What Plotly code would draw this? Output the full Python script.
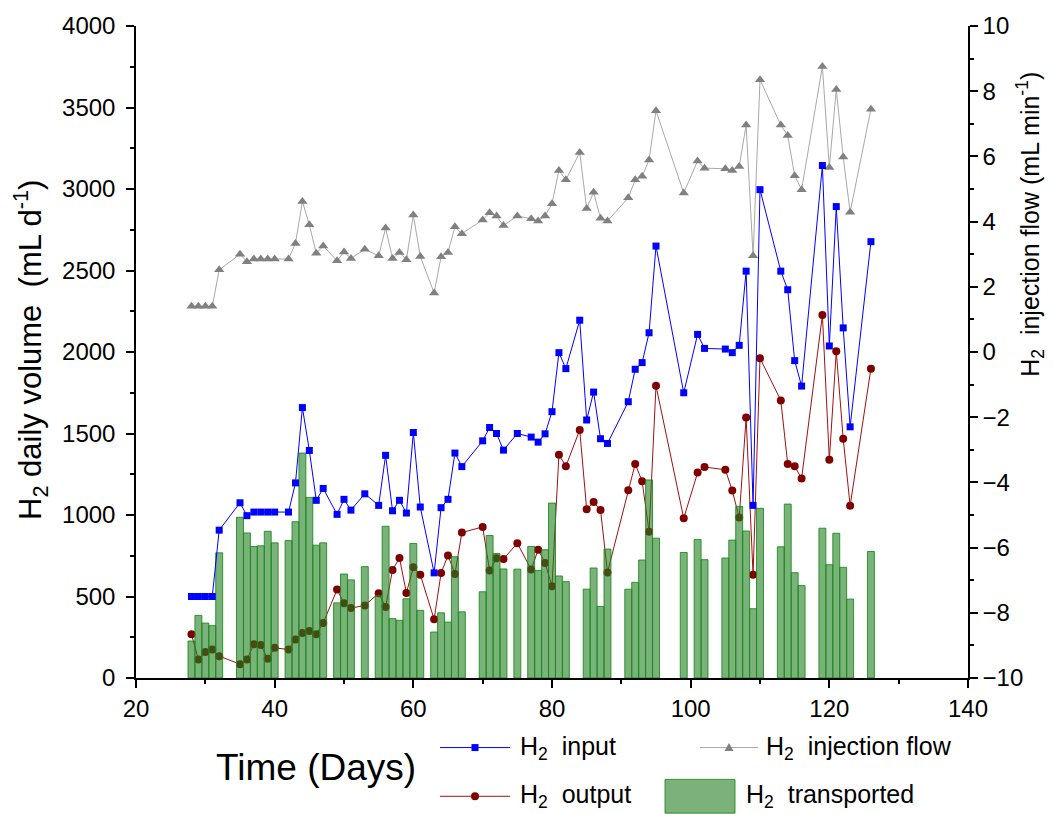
import plotly.graph_objects as go

# ---------------- data ----------------
bar_days = [28, 29, 30, 31, 32, 35, 36, 37, 38, 39, 40, 42, 43, 44, 45, 46, 47,
            49, 50, 51, 53, 55, 56, 57, 58, 59, 60, 61, 63, 64, 65, 66, 67,
            70, 71, 72, 73, 75, 77, 78, 79, 80, 81, 82, 85, 86, 87, 88,
            91, 92, 93, 94, 95, 99, 101, 102, 105, 106, 107, 108, 109, 110,
            113, 114, 115, 116, 119, 120, 121, 122, 123, 126]
h2_transported = [227, 384, 337, 321, 768, 986, 890, 807, 811, 900, 829,
                  843, 959, 1380, 1108, 815, 829, 461, 638, 602, 683,
                  505, 931, 364, 354, 486, 825, 415, 282, 400, 343, 744, 406,
                  529, 874, 764, 669, 668, 807, 659, 787, 1073, 626, 591,
                  545, 675, 439, 791, 545, 587, 724, 1215, 858, 770, 850, 726,
                  736, 846, 1053, 902, 425, 1041, 805, 1067, 646, 567,
                  919, 695, 888, 679, 484, 776]

line_days = [28, 29, 30, 31, 32, 35, 36, 37, 38, 39, 40, 42, 43, 44, 45, 46, 47,
             49, 50, 51, 53, 55, 56, 57, 58, 59, 60, 61, 63, 64, 65, 66, 67,
             70, 71, 72, 73, 75, 77, 78, 79, 80, 81, 82, 84, 85, 86, 87, 88,
             91, 92, 93, 94, 95, 99, 101, 102, 105, 106, 107, 108, 109, 110,
             113, 114, 115, 116, 119, 120, 121, 122, 123, 126]
h2_input = [500, 500, 500, 500, 907, 1075, 996, 1018, 1018, 1018, 1018,
            1018, 1197, 1659, 1396, 1090, 1163, 1004, 1096, 1030, 1130,
            1059, 1366, 1026, 1090, 1012, 1506, 1049, 645, 1045, 1096, 1380, 1297,
            1455, 1537, 1500, 1398, 1500, 1478, 1447, 1498, 1634, 1996, 1898, 2195,
            1583, 1754, 1468, 1439, 1695, 1894, 1935, 2118, 2650, 1750, 2108, 2022,
            2018, 1996, 2041, 2496, 1059, 2996, 2496, 2382, 1947, 1791,
            3144, 2037, 2892, 2148, 1541, 2677]
h2_output = [268, 114, 159, 175, 134, 85, 114, 207, 203, 118, 185,
             175, 236, 276, 288, 268, 337, 543, 459, 429, 445,
             520, 435, 663, 736, 522, 679, 634, 360, 644, 752, 638, 892,
             927, 659, 734, 730, 827, 665, 787, 706, 563, 1370, 1299, 1522,
             1035, 1079, 1030, 648, 1152, 1313, 1207, 898, 1793, 980, 1260, 1294,
             1278, 1150, 984, 1598, 634, 1962, 1703, 1313, 1299, 1224,
             2227, 1339, 2004, 1468, 1057, 1898]
h2_flow = [1.40, 1.40, 1.40, 1.40, 2.52, 3.00, 2.77, 2.85, 2.85, 2.85, 2.85,
           2.85, 3.33, 4.62, 3.90, 3.03, 3.25, 2.80, 3.07, 2.87, 3.15,
           2.95, 3.80, 2.87, 3.05, 2.83, 4.20, 2.93, 1.81, 2.92, 3.05, 3.84, 3.63,
           4.05, 4.27, 4.17, 3.88, 4.17, 4.09, 4.02, 4.17, 4.55, 5.57, 5.28, 6.12,
           4.40, 4.90, 4.10, 4.02, 4.73, 5.28, 5.39, 5.89, 7.40, 4.88, 5.86, 5.64,
           5.62, 5.57, 5.69, 6.96, 2.95, 8.35, 6.96, 6.64, 5.41, 4.98,
           8.76, 5.66, 8.05, 5.98, 4.29, 7.45]

# ---------------- styling ----------------
FONT = "Liberation Sans, Arial, sans-serif"
BLUE = "#0000FF"
RED_LINE = "#A01010"
RED_MK = "#800000"
GRAY_LINE = "#A8A8A8"
GRAY_MK = "#808080"
BAR_FILL = "rgba(35,125,35,0.6)"
BAR_LINE = "rgba(20,140,20,0.85)"

W, H = 1053, 814
L, R, T, B = 136, 85, 22, 136
PW, PH = W - L - R, H - T - B


def px(x):
    return (x - L) / PW


def py(y):
    return (H - B - y) / PH


fig = go.Figure()

fig.add_trace(go.Scatter(x=line_days, y=h2_output, yaxis="y", mode="lines+markers",
                         line=dict(color=RED_LINE, width=1),
                         marker=dict(symbol="circle", size=8, color=RED_MK),
                         name="H2 output"))
fig.add_trace(go.Bar(x=bar_days, y=h2_transported, yaxis="y3", width=1,
                     marker=dict(color=BAR_FILL, line=dict(color=BAR_LINE, width=1)),
                     name="H2 transported"))
fig.add_trace(go.Scatter(x=line_days, y=h2_input, yaxis="y3", mode="lines+markers",
                         line=dict(color=BLUE, width=1),
                         marker=dict(symbol="square", size=7, color=BLUE),
                         name="H2 input"))
fig.add_trace(go.Scatter(x=line_days, y=h2_flow, yaxis="y2", mode="lines+markers",
                         line=dict(color=GRAY_LINE, width=1),
                         marker=dict(symbol="triangle-up", size=9, color=GRAY_MK),
                         name="H2 injection flow"))

axis_common = dict(showgrid=False, zeroline=False, showline=True, linecolor="black",
                   linewidth=1.5, ticks="outside", ticklen=8, tickwidth=1.5,
                   tickcolor="black", tickfont=dict(family=FONT, size=24, color="black"))

fig.update_layout(
    width=W, height=H,
    margin=dict(l=L, r=R, t=T, b=B),
    plot_bgcolor="white", paper_bgcolor="white",
    showlegend=False,
    font=dict(family=FONT, color="black"),
    xaxis=dict(range=[20, 140], tick0=0, dtick=20,
               minor=dict(dtick=10, ticks="outside", ticklen=4, tickwidth=1.5, tickcolor="black"),
               **axis_common),
    yaxis=dict(range=[0, 4000], tick0=0, dtick=500, ticklabelstandoff=6,
               minor=dict(dtick=250, ticks="outside", ticklen=4, tickwidth=1.5, tickcolor="black"),
               **axis_common),
    yaxis2=dict(range=[-10, 10], tick0=0, dtick=2, overlaying="y", side="right",
                minor=dict(dtick=1, ticks="outside", ticklen=4, tickwidth=1.5, tickcolor="black"),
                **axis_common),
    yaxis3=dict(range=[0, 4000], overlaying="y", visible=False),
)

annotations = []
shapes = []

# axis titles
annotations.append(dict(text="H<sub>2</sub> daily volume  (mL d<sup>-1</sup>)", textangle=-90,
                        x=px(30), y=py(348), xref="paper", yref="paper", showarrow=False,
                        xanchor="center", yanchor="middle",
                        font=dict(size=31, family=FONT)))
annotations.append(dict(text="H<sub>2</sub>  injection flow (mL min<sup>-1</sup>)", textangle=-90,
                        x=px(1030), y=py(222), xref="paper", yref="paper", showarrow=False,
                        xanchor="center", yanchor="middle",
                        font=dict(size=25, family=FONT)))
annotations.append(dict(text="Time (Days)", x=px(316), y=py(768), xref="paper", yref="paper",
                        xanchor="center", yanchor="middle",
                        showarrow=False, font=dict(size=37, family=FONT)))

# custom legend
leg_font = dict(size=25, family=FONT)
r1, r2 = 748, 797


def leg_text(txt, x, y):
    annotations.append(dict(text=txt, x=px(x), y=py(y), xref="paper", yref="paper",
                            xanchor="left", yanchor="middle", showarrow=False, font=leg_font))


def leg_line(x0, x1, y, color):
    shapes.append(dict(type="line", xref="paper", yref="paper", x0=px(x0), x1=px(x1),
                       y0=py(y), y1=py(y), line=dict(color=color, width=1)))


leg_line(440, 510, r1, BLUE)
shapes.append(dict(type="rect", xref="paper", yref="paper", x0=px(471.5), x1=px(478.5),
                   y0=py(r1 - 3.5), y1=py(r1 + 3.5), fillcolor=BLUE, line=dict(width=0)))
leg_text("H<sub>2</sub>  input", 518, r1)

leg_line(440, 510, r2, RED_LINE)
shapes.append(dict(type="circle", xref="paper", yref="paper", x0=px(471), x1=px(479),
                   y0=py(r2 - 4), y1=py(r2 + 4), fillcolor=RED_MK, line=dict(width=0)))
leg_text("H<sub>2</sub>  output", 518, r2)

leg_line(700, 758, r1, GRAY_LINE)
shapes.append(dict(type="path", xref="paper", yref="paper",
                   path=f"M {px(724.5)} {py(r1 + 3.5)} L {px(733.5)} {py(r1 + 3.5)} L {px(729)} {py(r1 - 4.5)} Z",
                   fillcolor=GRAY_MK, line=dict(width=0)))
leg_text("H<sub>2</sub>  injection flow", 764, r1)

shapes.append(dict(type="rect", xref="paper", yref="paper", x0=px(665), x1=px(735),
                   y0=py(780), y1=py(814), fillcolor=BAR_FILL, line=dict(color=BAR_LINE, width=1)))
leg_text("H<sub>2</sub>  transported", 744, r2)

fig.update_layout(annotations=annotations, shapes=shapes)

fig.write_html("out.html")
